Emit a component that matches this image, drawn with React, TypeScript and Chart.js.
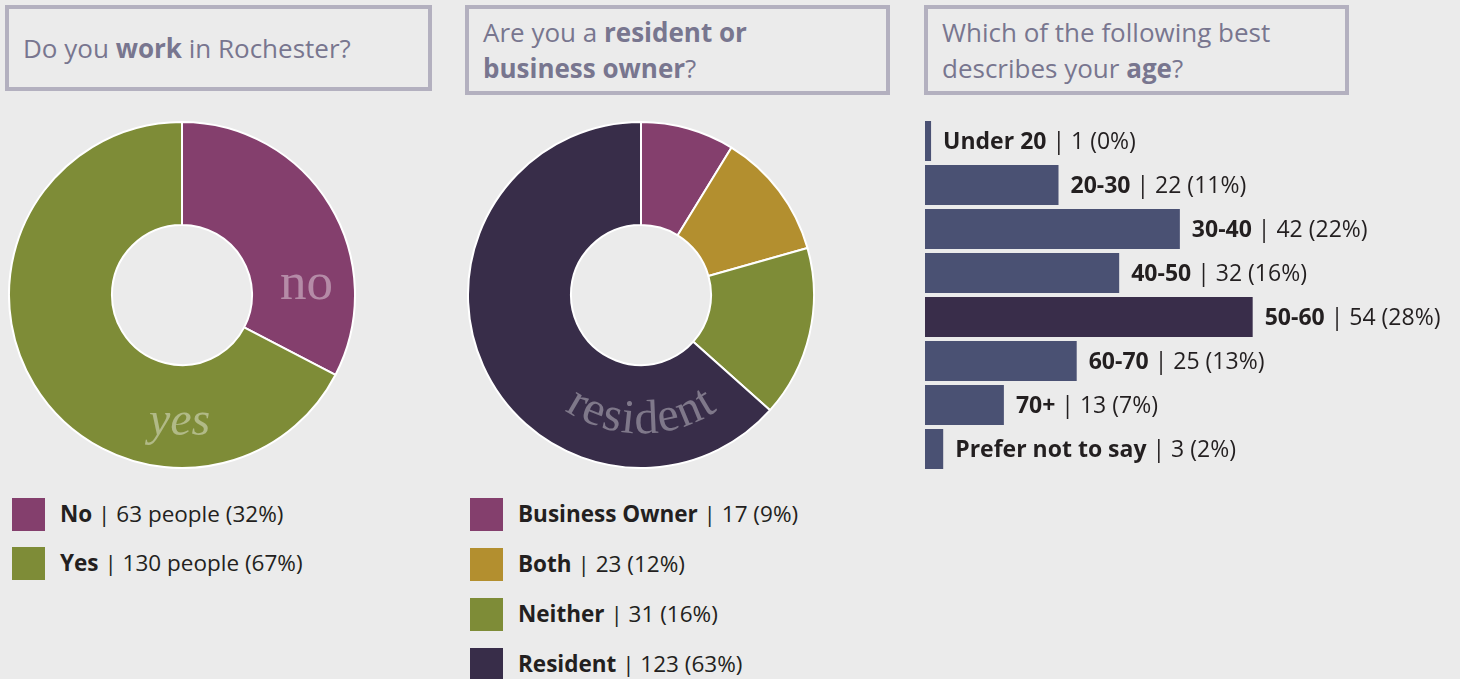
import React, { useEffect, useRef } from "react";
import { Chart, registerables } from "chart.js";

Chart.register(...registerables);

const SANS = '"Open Sans", "Noto Sans", sans-serif';
const SERIF = '"Liberation Serif", "DejaVu Serif", serif';
const BG = "#ebebeb";
const TEXT = "#231f20";
const TITLE_COLOR = "#78768f";
const BOX_BORDER = "#b3b0bf";

// Panel 1 — work in Rochester
const workLabels = ["No", "Yes"];
const workCounts = [63, 130];
const workPct = [32, 67];
const workColors = ["#843f6d", "#7e8c37"];
const workSliceText = ["no", "yes"];

// Panel 2 — resident or business owner
const roleLabels = ["Business Owner", "Both", "Neither", "Resident"];
const roleCounts = [17, 23, 31, 123];
const rolePct = [9, 12, 16, 63];
const roleColors = ["#843f6d", "#b38f2f", "#7e8c37", "#382d49"];

// Panel 3 — age
const ageLabels = ["Under 20", "20-30", "30-40", "40-50", "50-60", "60-70", "70+", "Prefer not to say"];
const ageCounts = [1, 22, 42, 32, 54, 25, 13, 3];
const agePct = [0, 11, 22, 16, 28, 13, 7, 2];
const AGE_BAR = "#4a5173";
const AGE_HIGHLIGHT = "#392d4a";

const BAR_LABEL_SIZE = 23;
const LEGEND_SIZE = 22.5;

// Slice annotation placement (angle clockwise from top, radius as fraction of outer radius)
const workTextPos = [
  { angle: 92, r: 0.72, italic: false, size: 53 },
  { angle: 181, r: 0.81, italic: true, size: 48 },
];

const workTextPlugin = {
  id: "workText",
  afterDatasetsDraw(chart: any) {
    const meta = chart.getDatasetMeta(0);
    const ctx = chart.ctx;
    meta.data.forEach((arc: any, i: number) => {
      const p = workTextPos[i];
      const { x, y, outerRadius } = arc.getProps(["x", "y", "outerRadius"], true);
      const a = (p.angle * Math.PI) / 180;
      const px = x + Math.sin(a) * outerRadius * p.r;
      const py = y - Math.cos(a) * outerRadius * p.r;
      ctx.save();
      ctx.font = `${p.italic ? "italic " : ""}${p.size}px ${SERIF}`;
      ctx.fillStyle = "rgba(255,255,255,0.4)";
      ctx.textAlign = "center";
      ctx.textBaseline = "alphabetic";
      ctx.fillText(workSliceText[i], px, py);
      ctx.restore();
    });
  },
};

const residentText = "resident";
const residentPlugin = {
  id: "residentText",
  afterDatasetsDraw(chart: any) {
    const meta = chart.getDatasetMeta(0);
    const arc = meta.data[roleLabels.indexOf("Resident")];
    const { x, y, outerRadius } = arc.getProps(["x", "y", "outerRadius"], true);
    const ctx = chart.ctx;
    const r = outerRadius * 0.8;
    const spacing = 1.5;
    ctx.save();
    ctx.font = `48px ${SERIF}`;
    ctx.fillStyle = "rgba(255,255,255,0.36)";
    ctx.textAlign = "center";
    ctx.textBaseline = "alphabetic";
    const chars = residentText.split("");
    const widths = chars.map((c) => ctx.measureText(c).width);
    const total = widths.reduce((s, w) => s + w, 0) + spacing * (chars.length - 1);
    let offset = 0;
    const start = Math.PI / 2 + total / (2 * r);
    chars.forEach((c, i) => {
      const theta = start - (offset + widths[i] / 2) / r;
      const cx = x + r * Math.cos(theta);
      const cy = y + r * Math.sin(theta);
      ctx.save();
      ctx.translate(cx, cy);
      ctx.rotate(theta - Math.PI / 2);
      ctx.fillText(c, 0, 0);
      ctx.restore();
      offset += widths[i] + spacing;
    });
    ctx.restore();
  },
};

const barLabelPlugin = {
  id: "barLabels",
  afterDatasetsDraw(chart: any) {
    const meta = chart.getDatasetMeta(0);
    const ctx = chart.ctx;
    ctx.save();
    ctx.textBaseline = "alphabetic";
    ctx.fillStyle = TEXT;
    meta.data.forEach((bar: any, i: number) => {
      const { x, y } = bar.getProps(["x", "y"], true);
      const by = y + BAR_LABEL_SIZE * 0.36;
      let tx = x + 12;
      ctx.font = `bold ${BAR_LABEL_SIZE}px ${SANS}`;
      ctx.fillText(ageLabels[i], tx, by);
      tx += ctx.measureText(ageLabels[i]).width;
      ctx.font = `${BAR_LABEL_SIZE}px ${SANS}`;
      ctx.fillText(` | ${ageCounts[i]} (${agePct[i]}%)`, tx, by);
    });
    ctx.restore();
  },
};

function TitleBox(props: { left: number; width: number; height: number; textTop: number; children: any }) {
  return (
    <>
      <div
        style={{
          position: "absolute",
          left: props.left,
          top: 5,
          width: props.width,
          height: props.height,
          boxSizing: "border-box",
          border: `4px solid ${BOX_BORDER}`,
        }}
      />
      <div
        style={{
          position: "absolute",
          left: props.left + 18,
          top: props.textTop,
          width: props.width - 30,
          font: `26px/36px ${SANS}`,
          color: TITLE_COLOR,
          whiteSpace: "nowrap",
        }}
      >
        {props.children}
      </div>
    </>
  );
}

function LegendRows(props: { left: number; top: number; pitch: number; labels: string[]; counts: number[]; pct: number[]; colors: string[]; unit: string }) {
  return (
    <>
      {props.labels.map((l, i) => (
        <div
          key={l}
          style={{
            position: "absolute",
            left: props.left,
            top: props.top + i * props.pitch,
            height: 33,
            display: "flex",
            alignItems: "center",
            font: `${LEGEND_SIZE}px ${SANS}`,
            color: TEXT,
            whiteSpace: "nowrap",
          }}
        >
          <div style={{ width: 33, height: 33, background: props.colors[i], marginRight: 15 }} />
          <span style={{ position: "relative", top: -1 }}>
            <b>{l}</b> | {props.counts[i]}
            {props.unit} ({props.pct[i]}%)
          </span>
        </div>
      ))}
    </>
  );
}

export default function App() {
  const c1 = useRef<HTMLCanvasElement>(null);
  const c2 = useRef<HTMLCanvasElement>(null);
  const c3 = useRef<HTMLCanvasElement>(null);

  useEffect(() => {
    const common = {
      responsive: false,
      animation: false as const,
      cutout: "40.5%",
      layout: { padding: 0 },
      plugins: { legend: { display: false }, tooltip: { enabled: false } },
    };
    const ch1 = new Chart(c1.current!, {
      type: "doughnut",
      data: {
        labels: workLabels,
        datasets: [{ data: workCounts, backgroundColor: workColors, borderColor: "#ffffff", borderWidth: 2 }],
      },
      options: common as any,
      plugins: [workTextPlugin],
    });
    const ch2 = new Chart(c2.current!, {
      type: "doughnut",
      data: {
        labels: roleLabels,
        datasets: [{ data: roleCounts, backgroundColor: roleColors, borderColor: "#ffffff", borderWidth: 2 }],
      },
      options: common as any,
      plugins: [residentPlugin],
    });
    const maxAge = Math.max(...ageCounts);
    const ch3 = new Chart(c3.current!, {
      type: "bar",
      data: {
        labels: ageLabels,
        datasets: [
          {
            data: ageCounts,
            backgroundColor: ageCounts.map((v) => (v === maxAge ? AGE_HIGHLIGHT : AGE_BAR)),
            categoryPercentage: 1,
            barPercentage: 40 / 44,
            borderWidth: 0,
          },
        ],
      },
      options: {
        indexAxis: "y",
        responsive: false,
        animation: false,
        layout: { padding: 0 },
        scales: {
          x: { display: false, min: 0, max: 88 },
          y: { display: false },
        },
        plugins: { legend: { display: false }, tooltip: { enabled: false } },
      } as any,
      plugins: [barLabelPlugin],
    });
    return () => {
      ch1.destroy();
      ch2.destroy();
      ch3.destroy();
    };
  }, []);

  return (
    <div style={{ position: "absolute", left: 0, top: 0, width: 1460, height: 679, background: BG, overflow: "hidden" }}>
      <TitleBox left={5} width={427} height={86} textTop={30}>
        Do you <b>work</b> in Rochester?
      </TitleBox>
      <TitleBox left={465} width={425} height={90} textTop={14}>
        Are you a <b>resident or</b>
        <br />
        <b>business owner</b>?
      </TitleBox>
      <TitleBox left={924} width={425} height={90} textTop={14}>
        Which of the following best
        <br />
        describes your <b>age</b>?
      </TitleBox>

      <canvas ref={c1} width={348} height={348} style={{ position: "absolute", left: 8, top: 121 }} />
      <canvas ref={c2} width={348} height={348} style={{ position: "absolute", left: 467, top: 121 }} />
      <canvas ref={c3} width={534} height={352} style={{ position: "absolute", left: 925, top: 119 }} />

      <LegendRows left={12} top={498} pitch={49} labels={workLabels} counts={workCounts} pct={workPct} colors={workColors} unit=" people" />
      <LegendRows left={470} top={498} pitch={50} labels={roleLabels} counts={roleCounts} pct={rolePct} colors={roleColors} unit="" />
    </div>
  );
}
